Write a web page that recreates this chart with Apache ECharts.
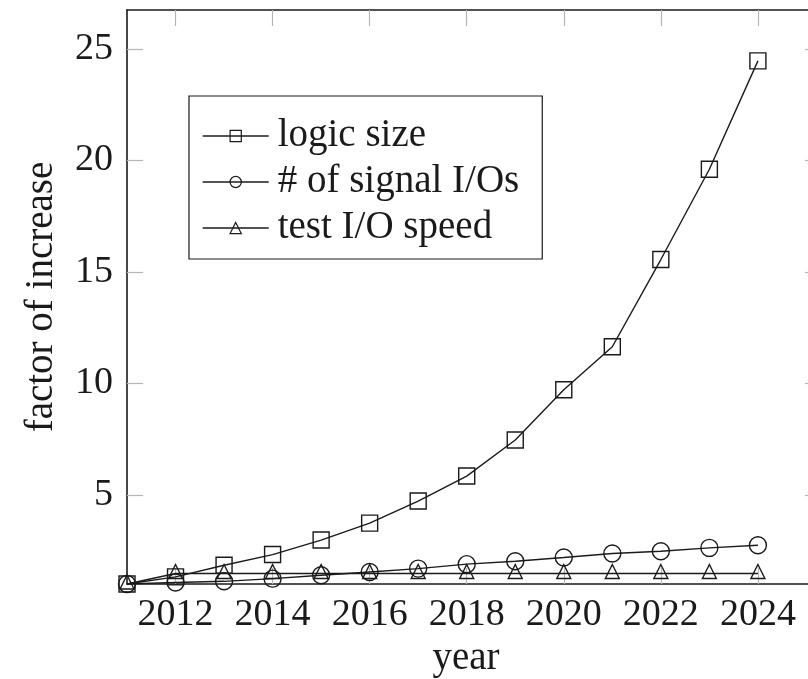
<!DOCTYPE html>
<html>
<head>
<meta charset="utf-8">
<script src="https://cdn.jsdelivr.net/npm/echarts@6/dist/echarts.min.js"></script>
<style>
html,body{margin:0;padding:0;background:#fff;}
#chart{width:808px;height:679px;}
</style>
</head>
<body>
<div id="chart"></div>
<script>
const years = [2011,2012,2013,2014,2015,2016,2017,2018,2019,2020,2021,2022,2023,2024];
const logicSize = [1.0,1.32,1.84,2.32,2.97,3.73,4.72,5.84,7.46,9.71,11.64,15.55,19.6,24.46];
const signalIOs = [1.0,1.07,1.12,1.24,1.39,1.54,1.69,1.89,2.02,2.19,2.37,2.47,2.62,2.74];
const testIOSpeed = [1.0,1.47,1.47,1.47,1.47,1.47,1.47,1.47,1.47,1.47,1.47,1.47,1.47,1.47];
const xTicks = [2012,2014,2016,2018,2020,2022,2024];
const yTicks = [5,10,15,20,25];
const seriesNames = ['logic size','# of signal I/Os','test I/O speed'];

const FONT = '"Liberation Serif", "Times New Roman", serif';
const INK = '#1a1a1a';
const TICKC = '#b5b5b5';

function pairs(vals){ return years.map((y,i)=>[y, vals[i]]); }

const tickStyle = {show:true, inside:true, length:16, lineStyle:{color:TICKC, width:1.2}};
const lineAxis = {show:true, onZero:false, lineStyle:{color:INK, width:1.6}};

function mkSeries(name, vals, symbol, size, offset){
  return {
    name: name, type:'line', data: pairs(vals),
    symbol: symbol, symbolSize: size, symbolOffset: offset || [0,0],
    showAllSymbol: true,
    itemStyle: {color:'rgba(255,255,255,0)', borderColor:INK, borderWidth:1.4},
    lineStyle: {color:INK, width:1.4},
    emphasis: {disabled:true},
    animation:false
  };
}

const chart = echarts.init(document.getElementById('chart'), null, {renderer:'canvas'});
chart.setOption({
  backgroundColor:'#fff',
  animation:false,
  grid:{left:127, top:10, right:-13, bottom:95, containLabel:false, outerBoundsMode:'none'},
  legend:{
    data: seriesNames,
    orient:'vertical', left:189, top:96,
    padding:[20,23,11,13],
    itemWidth:66, itemHeight:14, itemGap:6,
    backgroundColor:'#fff', borderColor:INK, borderWidth:1.2, borderRadius:0,
    textStyle:{fontFamily:FONT, fontSize:39, color:INK, lineHeight:40, padding:[0,0,0,4]},
    itemStyle:{color:'rgba(255,255,255,0)', borderColor:INK, borderWidth:1.2},
    lineStyle:{color:INK, width:1.4},
    selectedMode:false
  },
  xAxis:[{
    type:'value', min:2011, max:2025.3, position:'bottom',
    axisLine:lineAxis,
    axisTick:Object.assign({customValues:xTicks}, tickStyle),
    axisLabel:{customValues:xTicks, fontFamily:FONT, fontSize:38, color:INK, margin:12,
               formatter:v=>String(v)},
    splitLine:{show:false},
    name:'year', nameLocation:'middle', nameGap:50,
    nameTextStyle:{fontFamily:FONT, fontSize:39, color:INK, padding:[0,16,0,0]}
  },{
    type:'value', min:2011, max:2025.3, position:'top',
    axisLine:lineAxis,
    axisTick:Object.assign({customValues:xTicks}, tickStyle),
    axisLabel:{show:false},
    splitLine:{show:false}
  }],
  yAxis:[{
    type:'value', min:1, max:26.74, position:'left',
    axisLine:lineAxis,
    axisTick:Object.assign({customValues:yTicks}, tickStyle),
    axisLabel:{customValues:yTicks, fontFamily:FONT, fontSize:38, color:INK, margin:14},
    splitLine:{show:false},
    name:'factor of increase', nameLocation:'middle', nameRotate:90, nameGap:66,
    nameTextStyle:{fontFamily:FONT, fontSize:39, color:INK}
  },{
    type:'value', min:1, max:26.74, position:'right',
    axisLine:lineAxis,
    axisTick:Object.assign({customValues:yTicks}, tickStyle),
    axisLabel:{show:false},
    splitLine:{show:false}
  }],
  series:[
    mkSeries(seriesNames[0], logicSize, 'rect', 16),
    mkSeries(seriesNames[1], signalIOs, 'circle', 17),
    mkSeries(seriesNames[2], testIOSpeed, 'triangle', 14, [0,-2])
  ]
});
</script>
</body>
</html>
